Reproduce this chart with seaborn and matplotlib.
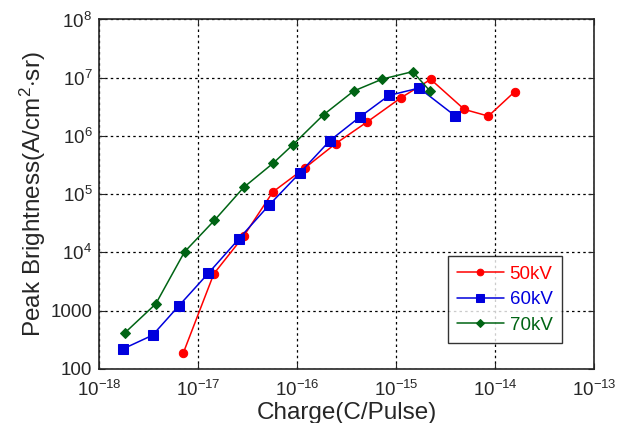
import numpy as np
import pandas as pd
import matplotlib
matplotlib.use("Agg")
import matplotlib.pyplot as plt
import seaborn as sns
from matplotlib.ticker import FixedFormatter, FixedLocator

# charge (C/pulse) and peak brightness per accelerating voltage
q_50kv = [7.1e-18, 1.44e-17, 2.89e-17, 5.68e-17, 1.19e-16, 2.46e-16, 5.13e-16,
          1.11e-15, 2.24e-15, 4.9e-15, 8.57e-15, 1.58e-14]
b_50kv = [190, 4290, 1.91e4, 1.09e5, 2.79e5, 7.41e5, 1.75e6,
          4.47e6, 9.36e6, 2.85e6, 2.19e6, 5.74e6]

q_60kv = [1.76e-18, 3.46e-18, 6.33e-18, 1.27e-17, 2.59e-17, 5.26e-17, 1.06e-16,
          2.15e-16, 4.33e-16, 8.49e-16, 1.71e-15, 3.94e-15]
b_60kv = [222, 378, 1190, 4400, 1.72e4, 6.6e4, 2.29e5,
          8.34e5, 2.13e6, 4.96e6, 6.64e6, 2.22e6]

q_70kv = [1.83e-18, 3.73e-18, 7.28e-18, 1.46e-17, 2.89e-17, 5.77e-17, 9.04e-17,
          1.85e-16, 3.73e-16, 7.28e-16, 1.47e-15, 2.22e-15]
b_70kv = [420, 1306, 1.02e4, 3.55e4, 1.31e5, 3.44e5, 7.03e5,
          2.31e6, 5.9e6, 9.48e6, 1.27e7, 5.82e6]

series = [
    ("50kV", q_50kv, b_50kv, "#ff0000", "o", 6),
    ("60kV", q_60kv, b_60kv, "#0000dd", "s", 7),
    ("70kV", q_70kv, b_70kv, "#006414", "D", 5.5),
]

y_ticks = [1e2, 1e3, 1e4, 1e5, 1e6, 1e7, 1e8]
y_labels = ["100", "1000", r"$10^4$", r"$10^5$", r"$10^6$", r"$10^7$", r"$10^8$"]
x_ticks = [1e-18, 1e-17, 1e-16, 1e-15, 1e-14, 1e-13]
x_labels = [r"$10^{-18}$", r"$10^{-17}$", r"$10^{-16}$", r"$10^{-15}$",
            r"$10^{-14}$", r"$10^{-13}$"]

sns.set_style("ticks")
plt.rcParams["font.family"] = ["Liberation Sans", "DejaVu Sans"]
plt.rcParams["mathtext.fontset"] = "custom"
plt.rcParams["mathtext.rm"] = "Liberation Sans"
plt.rcParams["mathtext.it"] = "Liberation Sans"

fig = plt.figure(figsize=(6.2, 4.23), dpi=100)
ax = fig.add_axes([0.16, 0.128, 0.798, 0.826])

for name, q, b, color, marker, ms in series:
    df = pd.DataFrame({"q": q, "b": b})
    sns.lineplot(data=df, x="q", y="b", ax=ax, sort=False, color=color,
                 marker=marker, markersize=ms, markeredgecolor=color,
                 linewidth=1.1, label=name)

ax.set_xscale("log")
ax.set_yscale("log")
ax.set_xlim(1e-18, 1e-13)
ax.set_ylim(1e2, 1e8)
ax.xaxis.set_major_locator(FixedLocator(x_ticks))
ax.xaxis.set_major_formatter(FixedFormatter(x_labels))
ax.yaxis.set_major_locator(FixedLocator(y_ticks))
ax.yaxis.set_major_formatter(FixedFormatter(y_labels))
ax.xaxis.set_minor_locator(plt.NullLocator())
ax.yaxis.set_minor_locator(plt.NullLocator())
ax.tick_params(direction="in", top=True, right=True, labelsize=13.5, length=4)
ax.tick_params(axis="y", pad=5)
ax.tick_params(axis="x", pad=8)
ax.grid(True, color="black", linestyle=(0, (2, 2.5)), linewidth=0.9)
for s in ax.spines.values():
    s.set_linewidth(1.2)

ax.set_xlabel("Charge(C/Pulse)", fontsize=17.5, labelpad=1.5)
ax.set_ylabel(r"Peak Brightness(A/cm$^2$$\cdot$sr)", fontsize=17.5, labelpad=2)

leg = ax.legend(loc="lower right", bbox_to_anchor=(0.935, 0.074), fontsize=13.5,
                frameon=True, fancybox=False, edgecolor="black",
                borderaxespad=0, handlelength=2.5, handletextpad=0.3,
                borderpad=0.5, labelspacing=0.45)
leg.get_frame().set_linewidth(1.0)
for txt, h, (_, _, _, color, _, ms) in zip(leg.get_texts(), leg.legend_handles, series):
    txt.set_color(color)
    h.set_markersize(ms * 0.8)

fig.savefig("out.png", dpi=100)
